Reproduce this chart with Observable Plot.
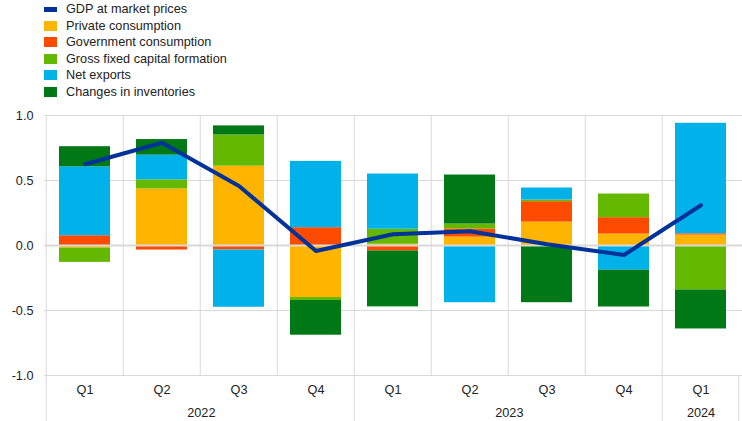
<!DOCTYPE html>
<html>
<head>
<meta charset="utf-8">
<script src="https://cdn.jsdelivr.net/npm/d3@7"></script>
<script src="https://cdn.jsdelivr.net/npm/@observablehq/plot@0.6"></script>
<style>
  html, body { margin: 0; padding: 0; background: #fff; }
  body { width: 742px; height: 421px; overflow: hidden; font-family: "Liberation Sans", Arial, sans-serif; }
  #legend { position: relative; height: 108px; }
  .item { position: absolute; left: 44px; height: 16.5px; display: flex; align-items: center; font-size: 12.7px; color: #222; white-space: nowrap; }
  .sw { width: 13px; height: 10px; margin-right: 9px; flex: none; }
  .sw.line { height: 4.5px; }
</style>
</head>
<body>
<div id="legend"></div>
<div id="chart"></div>
<script>
// ---- data ----
const quarters = ["2022 Q1","2022 Q2","2022 Q3","2022 Q4","2023 Q1","2023 Q2","2023 Q3","2023 Q4","2024 Q1"];
const years = ["2022","2023","2024"];
const gdpName = "GDP at market prices";
const seriesNames = ["Private consumption","Government consumption","Gross fixed capital formation","Net exports","Changes in inventories"];
const privateConsumption = [-0.02, 0.435, 0.61, -0.40, 0.01, 0.065, 0.18, 0.088, 0.08];
const governmentConsumption = [0.075, -0.035, -0.035, 0.137, -0.042, 0.062, 0.157, 0.126, 0.01];
const grossFixedCapital = [-0.11, 0.07, 0.24, -0.023, 0.115, 0.038, 0.013, 0.182, -0.342];
const netExports = [0.53, 0.19, -0.44, 0.51, 0.425, -0.44, 0.092, -0.19, 0.85];
const inventories = [0.155, 0.12, 0.07, -0.267, -0.43, 0.377, -0.44, -0.283, -0.30];
const gdp = [0.625, 0.79, 0.458, -0.042, 0.086, 0.11, 0.01, -0.073, 0.31];
const yTicks = [-1, -0.5, 0, 0.5, 1];
const colors = ["#ffb400","#ff4b00","#65b800","#00b1ea","#007816"];
const gdpColor = "#003299";

// ---- legend ----
const legend = document.getElementById("legend");
const legendItems = [{name: gdpName, color: gdpColor, line: true}]
  .concat(seriesNames.map((n, i) => ({name: n, color: colors[i], line: false})));
legendItems.forEach((it, i) => {
  const div = document.createElement("div");
  div.className = "item";
  div.style.top = (1 + i * 16.55) + "px";
  const sw = document.createElement("span");
  sw.className = "sw" + (it.line ? " line" : "");
  sw.style.background = it.color;
  div.appendChild(sw);
  div.appendChild(document.createTextNode(it.name));
  legend.appendChild(div);
});

// ---- chart ----
const seriesValues = [privateConsumption, governmentConsumption, grossFixedCapital, netExports, inventories];
const bars = [];
seriesNames.forEach((s, si) => quarters.forEach((q, qi) => bars.push({quarter: q, series: s, value: seriesValues[si][qi]})));
const gdpData = quarters.map((q, i) => ({quarter: q, value: gdp[i]}));

const W = 742, H = 313, mL = 44, mR = 0, mT = 7, mB = 46;
const step = (W - mL - mR) / quarters.length;
const grid = "#d9d9d9";
const firstOfYear = years.map(y => quarters.find(q => q.startsWith(y)));
const countOfYear = years.map(y => quarters.filter(q => q.startsWith(y)).length);
const innerBounds = quarters.filter(q => !firstOfYear.includes(q));

const marks = [
  Plot.ruleY(yTicks.filter(v => v !== 0), {stroke: grid, strokeWidth: 1}),
  Plot.ruleX(innerBounds, {x: d => d, dx: -step / 2, stroke: grid}),
  Plot.ruleX(firstOfYear, {x: d => d, dx: -step / 2, stroke: grid, insetBottom: -mB}),
  Plot.ruleX([quarters[quarters.length - 1]], {x: d => d, y1: -1, y2: -1, dx: step / 2 - 1, stroke: grid, insetBottom: -mB}),
  Plot.barY(bars, {x: "quarter", y: "value", fill: "series"}),
  Plot.ruleY([0], {stroke: grid, strokeWidth: 2}),
  Plot.line(gdpData, {x: "quarter", y: "value", stroke: gdpColor, strokeWidth: 4, strokeLinejoin: "round", strokeLinecap: "round"}),
  Plot.axisY(yTicks, {label: null, tickSize: 0, tickPadding: 11, tickFormat: d => d.toFixed(1), fill: "#222"}),
  Plot.text(quarters, {x: d => d, text: d => d.split(" ")[1], frameAnchor: "bottom", dy: 14.3, lineAnchor: "middle", fill: "#222"}),
  ...years.map((y, i) => Plot.text([y], {x: () => firstOfYear[i], text: d => d, frameAnchor: "bottom", dx: (countOfYear[i] - 1) * step / 2, dy: 37, lineAnchor: "middle", fill: "#222"}))
];

const chart = Plot.plot({
  width: W, height: H,
  marginLeft: mL, marginRight: mR, marginTop: mT, marginBottom: mB,
  style: {fontFamily: "'Liberation Sans', Arial, sans-serif", fontSize: "12.7px", background: "#fff", overflow: "visible"},
  x: {domain: quarters, paddingInner: 0.335, paddingOuter: 0.1675, axis: null},
  y: {domain: [-1, 1], axis: null},
  color: {domain: seriesNames, range: colors},
  marks
});
document.getElementById("chart").appendChild(chart);
</script>
</body>
</html>
